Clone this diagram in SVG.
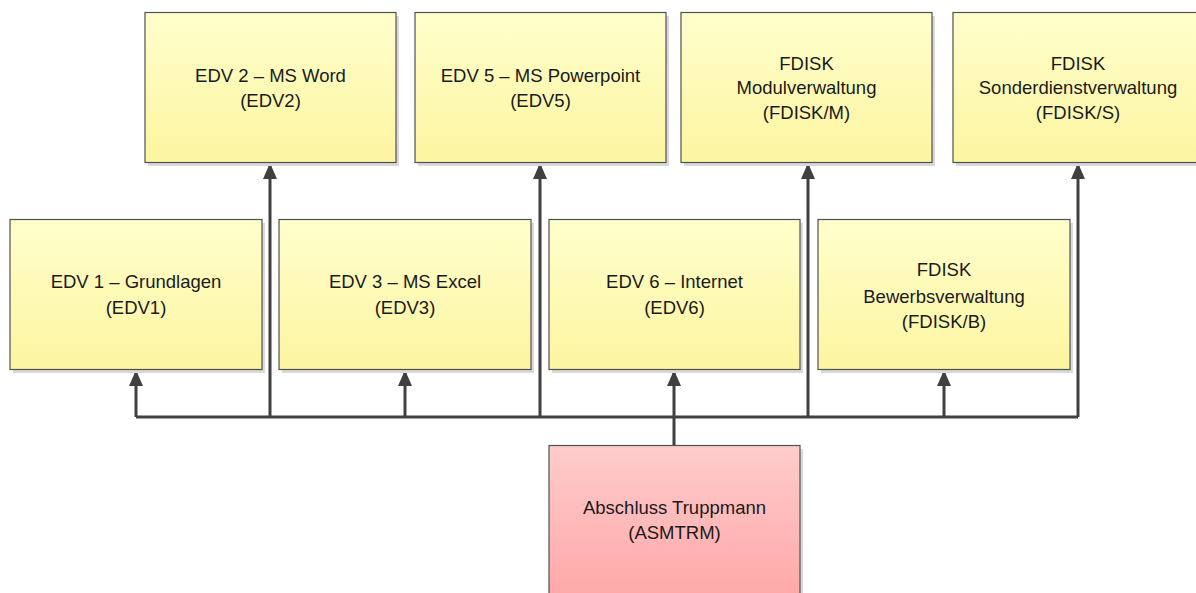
<svg xmlns="http://www.w3.org/2000/svg" width="1196" height="593" viewBox="0 0 1196 593">
<defs>
<linearGradient id="gy" x1="0" y1="0" x2="0" y2="1"><stop offset="0" stop-color="#ffffcc"/><stop offset="1" stop-color="#fcf5a0"/></linearGradient>
<linearGradient id="gp" x1="0" y1="0" x2="0" y2="1"><stop offset="0" stop-color="#ffcccc"/><stop offset="1" stop-color="#ffa8a8"/></linearGradient>
<marker id="ah" markerWidth="16" markerHeight="14" refX="16" refY="7" orient="auto" markerUnits="userSpaceOnUse" viewBox="0 0 16 14"><path d="M0,0 L16,7 L0,14 z" fill="#404040"/></marker>
<style>
.sh{fill:#d9d9d9}
.y{fill:url(#gy);stroke:#505050;stroke-width:1.2}
.p{fill:url(#gp);stroke:#505050;stroke-width:1.2}
text{font-family:"Liberation Sans",Arial,sans-serif;font-size:18.5px;fill:#1a1a1a;text-anchor:middle}
.c{fill:none;stroke:#404040;stroke-width:3}
</style>
</defs>
<rect width="1196" height="593" fill="#ffffff"/>
<g id="connectors">
<path class="c" d="M674,445 V417"/>
<path class="c" d="M136,417 H1078"/>
<path class="c" d="M136,417 V370" marker-end="url(#ah)"/>
<path class="c" d="M270,417 V163" marker-end="url(#ah)"/>
<path class="c" d="M405,417 V370" marker-end="url(#ah)"/>
<path class="c" d="M540,417 V163" marker-end="url(#ah)"/>
<path class="c" d="M674,417 V370" marker-end="url(#ah)"/>
<path class="c" d="M808,417 V163" marker-end="url(#ah)"/>
<path class="c" d="M944,417 V370" marker-end="url(#ah)"/>
<path class="c" d="M1078,417 V163" marker-end="url(#ah)"/>
</g>
<g id="edv2"><rect class="sh" x="148" y="16" width="251" height="150"/><rect class="y" x="145" y="12.5" width="251" height="150"/><text x="270.5" y="82">EDV 2 – MS Word</text><text x="270.5" y="107">(EDV2)</text></g>
<g id="edv5"><rect class="sh" x="418" y="16" width="251" height="150"/><rect class="y" x="415" y="12.5" width="251" height="150"/><text x="540.5" y="82">EDV 5 – MS Powerpoint</text><text x="540.5" y="107">(EDV5)</text></g>
<g id="fdiskm"><rect class="sh" x="684" y="16" width="251" height="150"/><rect class="y" x="681" y="12.5" width="251" height="150"/><text x="806.5" y="70">FDISK</text><text x="806.5" y="94">Modulverwaltung</text><text x="806.5" y="119">(FDISK/M)</text></g>
<g id="fdisks"><rect class="sh" x="956" y="16" width="251" height="150"/><rect class="y" x="953" y="12.5" width="251" height="150"/><text x="1078" y="70">FDISK</text><text x="1078" y="94">Sonderdienstverwaltung</text><text x="1078" y="119">(FDISK/S)</text></g>
<g id="edv1"><rect class="sh" x="13" y="223" width="252" height="150"/><rect class="y" x="10" y="219.5" width="252" height="150"/><text x="136" y="288">EDV 1 – Grundlagen</text><text x="136" y="314">(EDV1)</text></g>
<g id="edv3"><rect class="sh" x="282" y="223" width="252" height="150"/><rect class="y" x="279" y="219.5" width="252" height="150"/><text x="405" y="288">EDV 3 – MS Excel</text><text x="405" y="314">(EDV3)</text></g>
<g id="edv6"><rect class="sh" x="552" y="223" width="251" height="150"/><rect class="y" x="549" y="219.5" width="251" height="150"/><text x="674.5" y="288">EDV 6 – Internet</text><text x="674.5" y="314">(EDV6)</text></g>
<g id="fdiskb"><rect class="sh" x="821" y="223" width="252" height="150"/><rect class="y" x="818" y="219.5" width="252" height="150"/><text x="944" y="276">FDISK</text><text x="944" y="303">Bewerbsverwaltung</text><text x="944" y="328">(FDISK/B)</text></g>
<g id="asmtrm"><rect class="sh" x="552" y="449" width="251" height="150"/><rect class="p" x="549" y="445.5" width="251" height="150"/><text x="674.5" y="514">Abschluss Truppmann</text><text x="674.5" y="539">(ASMTRM)</text></g>
</svg>
